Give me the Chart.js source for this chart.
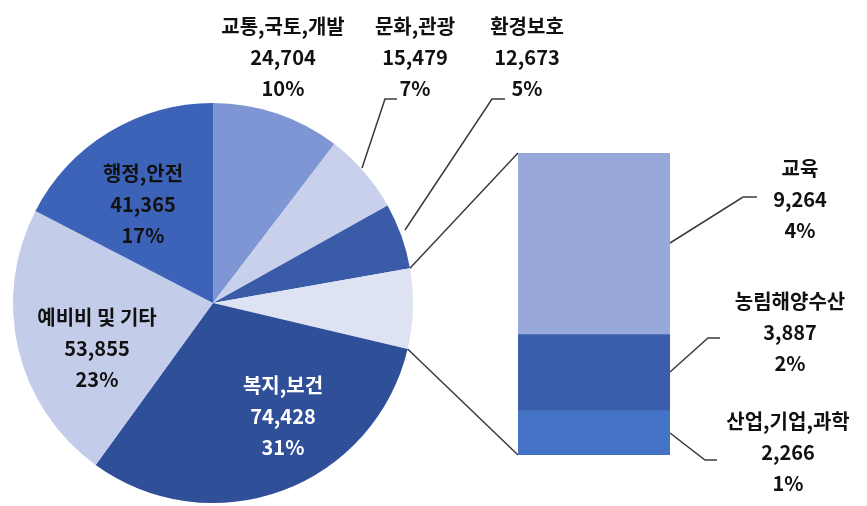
<!DOCTYPE html>
<html>
<head>
<meta charset="utf-8">
<script src="https://cdn.jsdelivr.net/npm/chart.js@4/dist/chart.umd.min.js"></script>
<style>
html, body { margin: 0; padding: 0; background: #fff; }
#wrap { position: relative; width: 867px; height: 506px; overflow: hidden; }
canvas { position: absolute; }
#pie { left: 0; top: 0; }
#bar { left: 518px; top: 153px; }
</style>
</head>
<body>
<div id="wrap">
  <canvas id="pie" width="867" height="506"></canvas>
  <canvas id="bar" width="152" height="302"></canvas>
</div>
<script>
// main pie categories (clockwise from 12 o'clock, the "other" slice goes after 환경보호)
const mainLabels = ['교통,국토,개발', '문화,관광', '환경보호', '복지,보건', '예비비 및 기타', '행정,안전'];
const mainValues = [24704, 15479, 12673, 74428, 53855, 41365];
const mainColors = ['#7f96d4', '#c8d0eb', '#3a5ca8', '#2f4f98', '#c3cce9', '#3d63b8'];

// broken-out categories shown in the stacked bar (top to bottom)
const subLabels = ['교육', '농림해양수산', '산업,기업,과학'];
const subValues = [9264, 3887, 2266];
const subColors = ['#98a8d9', '#3a5eac', '#4472c4'];
const otherColor = '#dee3f4';

const subTotal = subValues.reduce((a, b) => a + b, 0);
const pieLabels = mainLabels.slice(0, 3).concat(['기타'], mainLabels.slice(3));
const pieValues = mainValues.slice(0, 3).concat([subTotal], mainValues.slice(3));
const pieColors = mainColors.slice(0, 3).concat([otherColor], mainColors.slice(3));
const grandTotal = pieValues.reduce((a, b) => a + b, 0);

const FONT = 'bold 20px "Noto Sans CJK KR", "Noto Sans", sans-serif';
const LINE_GAP = 31;

// where each text block sits: [label, center x, first line y, colour]
const labelSpots = [
    ['교통,국토,개발', 283, 26, '#111'],
    ['문화,관광', 415, 26, '#111'],
    ['환경보호', 527, 26, '#111'],
    ['행정,안전', 143, 173, '#111'],
    ['예비비 및 기타', 97, 317, '#111'],
    ['복지,보건', 283, 385, '#fff'],
    ['교육', 800, 168, '#111'],
    ['농림해양수산', 790, 301, '#111'],
    ['산업,기업,과학', 788, 421, '#111']
];

// leader lines
const leaders = [
    [[362, 168], [385, 99], [397, 99]],
    [[405, 230], [492, 99], [505, 99]],
    [[670, 243], [743, 197], [757, 197]],
    [[670, 372], [708, 338], [720, 338]],
    [[670, 433], [705, 460], [717, 460]]
];

function fmt(v) {
    return v.toLocaleString('en-US');
}

function valueOf(label) {
    let i = mainLabels.indexOf(label);
    if (i >= 0) return mainValues[i];
    return subValues[subLabels.indexOf(label)];
}

// bar chart: one stacked column, bottom segment first
const barDatasets = subLabels.map((l, i) => ({
    label: l,
    data: [subValues[i]],
    backgroundColor: subColors[i],
    borderWidth: 0,
    barPercentage: 1,
    categoryPercentage: 1
})).reverse();

const barChart = new Chart(document.getElementById('bar'), {
    type: 'bar',
    data: { labels: [''], datasets: barDatasets },
    options: {
        responsive: false,
        animation: false,
        devicePixelRatio: 1,
        layout: { padding: 0 },
        plugins: { legend: { display: false }, tooltip: { enabled: false } },
        scales: {
            x: { display: false, stacked: true },
            y: { display: false, stacked: true, min: 0, max: subTotal }
        }
    }
});

const overlay = {
    id: 'overlay',
    afterDraw(chart) {
        const ctx = chart.ctx;
        const arc = chart.getDatasetMeta(0).data[3];
        const barLeft = 518, barTop = 153;
        const topMeta = barChart.getDatasetMeta(barDatasets.length - 1).data[0];
        const botMeta = barChart.getDatasetMeta(0).data[0];
        const bx = barLeft + topMeta.x - topMeta.width / 2;
        const by1 = barTop + topMeta.y;
        const by2 = barTop + botMeta.base;

        ctx.save();
        ctx.strokeStyle = '#3a3a3a';
        ctx.lineWidth = 1.5;
        // connector lines from the "other" slice to the column
        [[arc.startAngle, by1], [arc.endAngle, by2]].forEach(([a, y]) => {
            ctx.beginPath();
            ctx.moveTo(arc.x + arc.outerRadius * Math.cos(a), arc.y + arc.outerRadius * Math.sin(a));
            ctx.lineTo(bx, y);
            ctx.stroke();
        });
        leaders.forEach(pts => {
            ctx.beginPath();
            ctx.moveTo(pts[0][0], pts[0][1]);
            for (let k = 1; k < pts.length; k++) ctx.lineTo(pts[k][0], pts[k][1]);
            ctx.stroke();
        });

        ctx.font = FONT;
        ctx.textAlign = 'center';
        ctx.textBaseline = 'middle';
        labelSpots.forEach(([label, x, y, color]) => {
            const v = valueOf(label);
            const lines = [label, fmt(v), Math.round(v / grandTotal * 100) + '%'];
            ctx.fillStyle = color;
            lines.forEach((t, k) => ctx.fillText(t, x, y + k * LINE_GAP));
        });
        ctx.restore();
    }
};

new Chart(document.getElementById('pie'), {
    type: 'pie',
    data: {
        labels: pieLabels,
        datasets: [{
            data: pieValues,
            backgroundColor: pieColors,
            borderWidth: 0
        }]
    },
    options: {
        responsive: false,
        animation: false,
        devicePixelRatio: 1,
        layout: { padding: { left: 13, right: 454, top: 103, bottom: 3 } },
        plugins: { legend: { display: false }, tooltip: { enabled: false } }
    },
    plugins: [overlay]
});
</script>
</body>
</html>
